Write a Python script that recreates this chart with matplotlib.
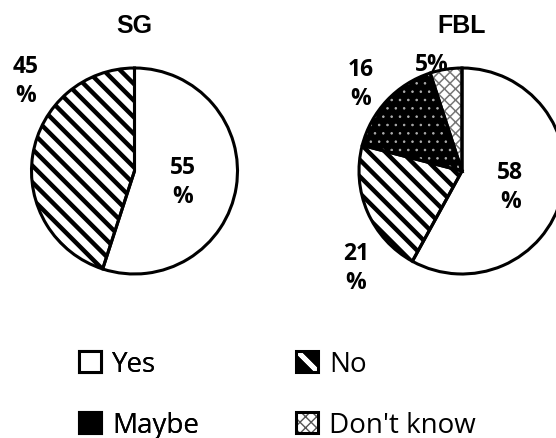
import matplotlib
matplotlib.use("Agg")
import matplotlib.pyplot as plt
from matplotlib.patches import Patch
from matplotlib.lines import Line2D
from matplotlib.legend_handler import HandlerTuple

categories = ["Yes", "No", "Maybe", "Don't know"]
sg_values = [55, 45]
fbl_values = [58, 21, 16, 5]
titles = ["SG", "FBL"]

faces = ["white", "white", "black", "white"]
hatch_colors = ["black", "black", "#b0b0b0", "#777777"]
hatches = [None, "\\\\", "..", "xxx"]
hatch_lw = [1.0, 3.2, 0.6, 1.1]

W, H = 556, 439
fig = plt.figure(figsize=(W / 100, H / 100), dpi=100)

def add_pie(cx, cy, r, values, title, label_pos):
    ax = fig.add_axes([(cx - r) / W, (H - cy - r) / H, 2 * r / W, 2 * r / H])
    n = len(values)
    for i in range(n):
        with plt.rc_context({"hatch.linewidth": hatch_lw[i]}):
            w, _ = ax.pie(values, startangle=90, counterclock=False, radius=1,
                          colors=["none"] * n, wedgeprops=dict(linewidth=0))
            for j, wd in enumerate(w):
                if j != i:
                    wd.set_visible(False)
                else:
                    wd.set_facecolor(faces[i])
                    if hatches[i]:
                        wd.set_hatch(hatches[i])
                        wd.set_edgecolor(hatch_colors[i])
                        wd.set_linewidth(0)
    ax.pie(values, startangle=90, counterclock=False, radius=1,
           colors=["none"] * n, wedgeprops=dict(linewidth=2.2, edgecolor="black"))
    ax.set_xlim(-1, 1)
    ax.set_ylim(-1, 1)
    ax.set_aspect("equal")
    ax.axis("off")
    for v, (x, y, oneline) in zip(values, label_pos):
        txt = f"{v}%" if oneline else f"{v}\n%"
        ax.text(x, y, txt, ha="center", va="center", fontsize=16.5, fontweight="bold",
                family="Open Sans", linespacing=1.28, clip_on=False)
    fig.text(cx / W, 1 - 33 / H, title, ha="center", va="baseline", fontsize=18,
             fontweight="bold", family="Liberation Sans")

add_pie(134.5, 172, 103, sg_values, titles[0],
        [(0.47, -0.106, False), (-1.06, 0.875, False)])
add_pie(462, 172, 103, fbl_values, titles[1],
        [(0.47, -0.154, False), (-1.03, -0.94, False), (-0.98, 0.85, False), (-0.29, 1.04, True)])

def handle(i):
    outline = Patch(facecolor="none", edgecolor="black", linewidth=2.2)
    if i == 0:
        return Patch(facecolor="white", edgecolor="black", linewidth=2.2)
    if i == 1:
        return (Patch(facecolor="black", edgecolor="black", linewidth=0),
                Line2D([], [], linestyle="none", marker=(2, 2, 45), markersize=19,
                       markeredgewidth=3.5, color="white"),
                outline)
    if i == 2:
        return Patch(facecolor="black", edgecolor="black", linewidth=2.2)
    return (Patch(facecolor="white", edgecolor="#555555", hatch="xxx", linewidth=0),
            outline)

for col, (xpx, idxs) in enumerate([(79, [0, 2]), (296, [1, 3])]):
    leg = fig.legend([handle(i) for i in idxs], [categories[i] for i in idxs],
                     frameon=False, loc="upper left",
                     bbox_to_anchor=(xpx / W, 1 - 351 / H),
                     prop=dict(family="Open Sans", size=20), handlelength=0.8,
                     handleheight=0.8, handletextpad=0.4, labelspacing=1.2,
                     borderpad=0, borderaxespad=0,
                     handler_map={tuple: HandlerTuple(ndivide=1, pad=0)})
    if col == 0:
        fig.add_artist(leg)

fig.savefig("out.png", dpi=100)
